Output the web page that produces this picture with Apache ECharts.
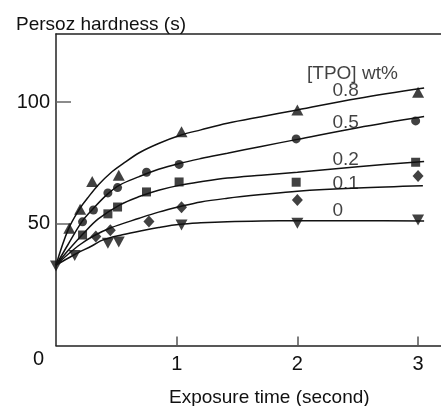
<!DOCTYPE html>
<html>
<head>
<meta charset="utf-8">
<script src="https://cdn.jsdelivr.net/npm/echarts@6/dist/echarts.min.js"></script>
<style>html,body{margin:0;padding:0;background:#fff}#c{width:441px;height:406px}</style>
</head>
<body>
<div id="c"></div>
<script>
// ---- data ----
const seriesNames = ['0.8', '0.5', '0.2', '0.1', '0'];
const xTicks = [1, 2, 3];
const yTicks = [50, 100];

// measured points (time s, hardness s)
const t08 = [0.11, 0.20, 0.30, 0.52, 1.04, 2.0, 3.0];
const v08 = [48.2, 56.0, 67.4, 70.0, 87.8, 96.8, 104.1];
const t05 = [0.22, 0.31, 0.43, 0.51, 0.75, 1.02, 1.99, 2.98];
const v05 = [50.8, 55.7, 62.7, 64.9, 71.2, 74.4, 84.9, 92.3];
const t02 = [0.22, 0.43, 0.51, 0.75, 1.02, 1.99, 2.98];
const v02 = [45.4, 54.1, 56.9, 63.1, 67.2, 67.1, 75.3];
const t01 = [0.33, 0.45, 0.77, 1.04, 2.0, 3.0];
const v01 = [44.8, 47.4, 51.0, 56.8, 59.8, 69.7];
const t00 = [0.0, 0.155, 0.43, 0.52, 1.04, 2.0, 3.0];
const v00 = [32.7, 37.0, 42.0, 42.5, 49.5, 50.2, 51.6];

// fitted curves
const c08x = [0, 0.1, 0.2, 0.26, 0.35, 0.45, 0.55, 0.69, 0.85, 1.03, 1.2, 1.42, 1.7, 2.0, 2.5, 3.05];
const c08y = [33, 47.5, 56.5, 60.5, 66, 70.8, 74.5, 79.2, 83.0, 86.4, 88.6, 91.3, 94.0, 96.8, 101.5, 105.8];
const c05x = [0, 0.1, 0.215, 0.3, 0.42, 0.53, 0.69, 0.85, 1.03, 1.2, 1.42, 1.7, 2.0, 2.5, 3.05];
const c05y = [33, 41.5, 50.9, 55.8, 61.9, 66, 69.4, 72.4, 74.9, 76.8, 79.0, 81.8, 84.7, 89.5, 94.1];
const c02x = [0, 0.1, 0.229, 0.35, 0.53, 0.69, 0.85, 1.03, 1.2, 1.42, 1.7, 2.0, 2.5, 3.05];
const c02y = [33, 39, 46.1, 52, 57.8, 61.2, 63.8, 65.9, 67.3, 68.8, 70.0, 71.2, 73.5, 75.6];
const c01x = [0, 0.1, 0.2, 0.31, 0.45, 0.69, 0.85, 1.03, 1.2, 1.42, 1.7, 2.0, 2.5, 3.04];
const c01y = [33, 37.5, 41.5, 45.0, 48.3, 52.3, 54.8, 57.1, 59.0, 60.5, 62.0, 63.4, 64.7, 65.6];
const c00x = [0, 0.147, 0.3, 0.39, 0.55, 0.72, 0.85, 1.03, 1.2, 1.42, 1.7, 2.0, 2.5, 3.05];
const c00y = [33, 37.2, 41, 43.4, 45.5, 47.3, 48.5, 49.8, 50.4, 50.9, 51.2, 51.3, 51.3, 51.2];

// annotation labels
const annText = ['[TPO] wt%', '0.8', '0.5', '0.2', '0.1', '0'];
const annX = [2.08, 2.29, 2.29, 2.29, 2.29, 2.29];
const annY = [111.8, 104.7, 91.7, 76.5, 66.6, 55.3];

// ---- chart ----
const zip = (a, b) => a.map((x, i) => [x, b[i]]);
const ink = '#111';
const FONT = 'Liberation Sans, Arial, sans-serif';

function curve(x, y) {
  return { type: 'line', data: zip(x, y), smooth: 0.35, showSymbol: false, symbol: 'none',
    lineStyle: { color: ink, width: 1.5 }, z: 2, silent: true };
}
function pts(x, y, symbol, size, rotate) {
  return { type: 'scatter', data: zip(x, y), symbol: symbol, symbolSize: size, symbolRotate: rotate || 0,
    itemStyle: { color: ink }, z: 3 };
}

const chart = echarts.init(document.getElementById('c'), null, { renderer: 'canvas' });
const option = {
  animation: false,
  backgroundColor: '#fff',
  textStyle: { fontFamily: FONT, color: ink },
  title: [
    { text: 'Persoz hardness (s)', left: 11, top: 10, textStyle: { fontFamily: FONT, fontSize: 19, fontWeight: 'normal', color: ink } },
    { text: 'Exposure time (second)', left: 164, top: 383, textStyle: { fontFamily: FONT, fontSize: 19, fontWeight: 'normal', color: ink } }
  ],
  grid: { left: 56, right: -5, top: 34, bottom: 60.5 },
  xAxis: [{
    type: 'value', min: 0, max: 3.19, interval: 1,
    axisLine: { show: true, lineStyle: { color: '#222', width: 1.5 } },
    axisTick: { show: true, inside: true, length: 9, customValues: xTicks, lineStyle: { color: '#555', width: 1.5 } },
    axisLabel: { show: true, customValues: xTicks, fontSize: 20, fontFamily: FONT, color: ink, margin: 9 },
    splitLine: { show: false }
  }, {
    type: 'value', position: 'top', min: 0, max: 3.19,
    axisLine: { show: true, onZero: false, lineStyle: { color: '#222', width: 1.5 } },
    axisTick: { show: false }, axisLabel: { show: false }, splitLine: { show: false }
  }],
  yAxis: {
    type: 'value', min: 0, max: 128, interval: 50,
    axisLine: { show: true, lineStyle: { color: '#222', width: 1.5 } },
    axisTick: { show: true, inside: true, length: 15, customValues: yTicks, lineStyle: { color: '#666', width: 1.5 } },
    axisLabel: { show: true, customValues: yTicks, fontSize: 20, fontFamily: FONT, color: ink, margin: 6 },
    splitLine: { show: false }
  },
  graphic: [
    { type: 'text', left: 33, top: 349, style: { text: '0', fontSize: 20, fontFamily: FONT, fill: ink } }
  ],
  series: [
    curve(c08x, c08y), curve(c05x, c05y), curve(c02x, c02y), curve(c01x, c01y), curve(c00x, c00y),
    pts(t08, v08, 'triangle', [12, 11]),
    pts(t05, v05, 'circle', 9),
    pts(t02, v02, 'rect', 9),
    pts(t01, v01, 'diamond', [11, 12]),
    pts(t00, v00, 'triangle', [12, 11], 180),
    {
      type: 'scatter', symbolSize: 0, silent: true, z: 4,
      data: annText.map((s, i) => ({ name: s, value: [annX[i], annY[i]] })),
      label: { show: true, position: 'inside', align: 'left', verticalAlign: 'middle', formatter: p => p.name,
        fontSize: 19, fontFamily: FONT, color: ink }
    }
  ]
};
chart.setOption(option);
</script>
</body>
</html>
